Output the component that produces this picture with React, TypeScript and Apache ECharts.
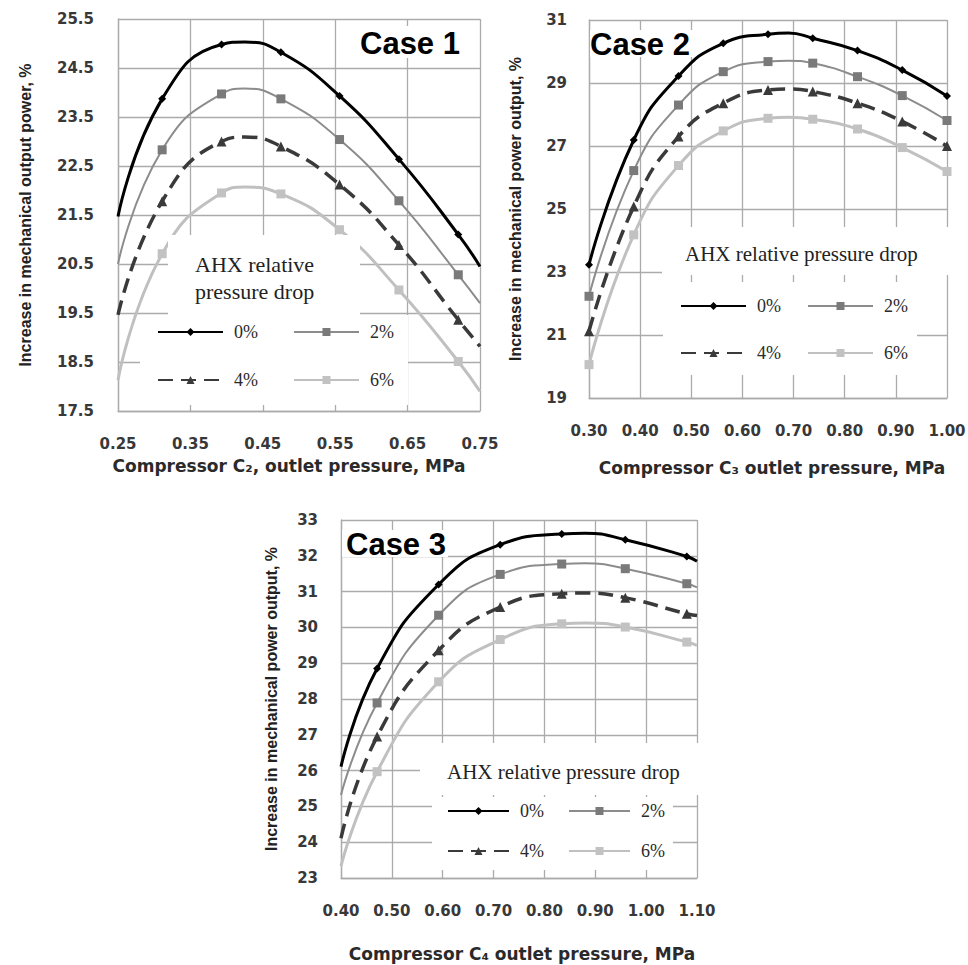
import React, { useEffect, useRef } from 'react';
import * as echarts from 'echarts';

// ---------- data ----------
const SERIES_NAMES = ['0%', '2%', '4%', '6%'];

// Case 1 (Compressor C2). Points flagged 0 in C1_MARK are curve points read off the plot without a marker.
const C1_X = [0.25, 0.311, 0.393, 0.425, 0.475, 0.556, 0.638, 0.72, 0.75];
const C1_MARK = [0, 1, 1, 0, 1, 1, 1, 1, 0];
const C1_P0 = [21.47, 23.87, 24.98, 25.03, 24.82, 23.93, 22.64, 21.1, 20.45];
const C1_P2 = [20.5, 22.83, 23.97, 24.08, 23.87, 23.04, 21.79, 20.28, 19.7];
const C1_P4 = [19.46, 21.78, 23.0, 23.09, 22.9, 22.12, 20.89, 19.36, 18.82];
const C1_P6 = [18.13, 20.71, 21.95, 22.07, 21.93, 21.2, 19.97, 18.51, 17.9];
const C1_X_TICKS = [0.25, 0.35, 0.45, 0.55, 0.65, 0.75];
const C1_Y_TICKS = [17.5, 18.5, 19.5, 20.5, 21.5, 22.5, 23.5, 24.5, 25.5];

// Case 2 (Compressor C3)
const C2_X = [0.3, 0.3875, 0.475, 0.5625, 0.65, 0.69, 0.7375, 0.825, 0.9125, 1.0];
const C2_MARK = [1, 1, 1, 1, 1, 0, 1, 1, 1, 1];
const C2_P0 = [23.23, 27.19, 29.22, 30.26, 30.55, 30.59, 30.42, 30.03, 29.41, 28.59];
const C2_P2 = [22.23, 26.22, 28.3, 29.36, 29.68, 29.71, 29.63, 29.2, 28.6, 27.81];
const C2_P4 = [21.12, 25.08, 27.3, 28.36, 28.78, 28.81, 28.73, 28.36, 27.78, 27.0];
const C2_P6 = [20.06, 24.18, 26.38, 27.48, 27.88, 27.91, 27.85, 27.54, 26.95, 26.19];
const C2_X_TICKS = [0.3, 0.4, 0.5, 0.6, 0.7, 0.8, 0.9, 1.0];
const C2_Y_TICKS = [19, 21, 23, 25, 27, 29, 31];

// Case 3 (Compressor C4)
const C3_X = [0.4, 0.471, 0.592, 0.713, 0.834, 0.88, 0.959, 1.08, 1.1];
const C3_MARK = [0, 1, 1, 1, 1, 0, 1, 1, 0];
const C3_P0 = [26.11, 28.85, 31.2, 32.31, 32.61, 32.63, 32.45, 31.98, 31.85];
const C3_P2 = [25.32, 27.89, 30.34, 31.48, 31.77, 31.79, 31.64, 31.22, 31.12];
const C3_P4 = [24.11, 26.95, 29.36, 30.57, 30.94, 30.96, 30.83, 30.38, 30.33];
const C3_P6 = [23.33, 25.97, 28.48, 29.66, 30.1, 30.12, 30.01, 29.59, 29.5];
const C3_X_TICKS = [0.4, 0.5, 0.6, 0.7, 0.8, 0.9, 1.0, 1.1];
const C3_Y_TICKS = [23, 24, 25, 26, 27, 28, 29, 30, 31, 32, 33];

const CASE_LABELS = ['Case 1', 'Case 2', 'Case 3'];
const X_NAMES = [
  'Compressor C\u2082, outlet pressure, MPa',
  'Compressor C\u2083 outlet pressure, MPa',
  'Compressor C\u2084 outlet pressure, MPa',
];
const Y_NAMES = [
  'Increase in mechanical output power, %',
  'Increase in mechanical power output, %',
  'Increase in mechanical power output, %',
];
const LEGEND_TITLE = 'AHX relative pressure drop';

// ---------- styles ----------
const GRID_COLOR = '#ababab';
const TICK_FONT = 'DejaVu Sans';
const SERIF = 'Liberation Serif';

const STYLES = [
  { symbol: 'diamond', symbolSize: 8, color: '#000000', lineColor: '#000000', width: 3, type: 'solid' as any },
  { symbol: 'rect', symbolSize: 9, color: '#7a7a7a', lineColor: '#8c8c8c', width: 2, type: 'solid' as any },
  { symbol: 'triangle', symbolSize: 10, color: '#3a3a3a', lineColor: '#3a3a3a', width: 3.5, type: [15, 8] as any },
  { symbol: 'rect', symbolSize: 9, color: '#c2c2c2', lineColor: '#c0c0c0', width: 3, type: 'solid' as any },
];

function makeData(xs: number[], ys: number[], mark: number[]) {
  return xs.map((x, i) => (mark[i] ? { value: [x, ys[i]] } : { value: [x, ys[i]], symbol: 'none' }));
}

function buildSeries(idx: number, xs: number[], mark: number[], sets: number[][]) {
  return sets.map((ys, k) => {
    const s = STYLES[k];
    return {
      type: 'line',
      name: SERIES_NAMES[k],
      xAxisIndex: idx,
      yAxisIndex: idx,
      smooth: true,
      symbol: s.symbol,
      symbolSize: s.symbolSize,
      showSymbol: true,
      itemStyle: { color: s.color },
      lineStyle: { color: s.lineColor, width: s.width, type: s.type },
      emphasis: { disabled: true },
      z: 2,
      data: makeData(xs, ys, mark),
    };
  });
}

function xAxisOf(idx: number, min: number, max: number, ticks: number[], nameGap: number, pad: number[]) {
  return {
    type: 'value',
    gridIndex: idx,
    min,
    max,
    name: X_NAMES[idx],
    nameLocation: 'middle',
    nameGap,
    nameTextStyle: { fontFamily: TICK_FONT, fontWeight: 'bold', fontSize: 17, color: '#2a2a2a', padding: pad },
    axisLine: { show: true, onZero: false, lineStyle: { color: GRID_COLOR, width: 1.3 } },
    axisTick: { show: false, customValues: ticks },
    axisLabel: {
      customValues: ticks,
      formatter: (v: number) => v.toFixed(2),
      margin: 25,
      fontFamily: TICK_FONT,
      fontWeight: 'bold',
      fontSize: 15,
      color: '#383838',
    },
    splitLine: { show: true, lineStyle: { color: GRID_COLOR, width: 1.3 } },
  };
}

function yAxisOf(idx: number, min: number, max: number, ticks: number[], digits: number, margin: number, nameGap: number) {
  return {
    type: 'value',
    gridIndex: idx,
    min,
    max,
    name: Y_NAMES[idx],
    nameLocation: 'middle',
    nameRotate: 90,
    nameGap,
    nameTextStyle: { fontFamily: 'Liberation Sans', fontWeight: 'bold', fontSize: 16, color: '#222' },
    axisLine: { show: true, onZero: false, lineStyle: { color: GRID_COLOR, width: 1.3 } },
    axisTick: { show: false, customValues: ticks },
    axisLabel: {
      customValues: ticks,
      formatter: (v: number) => v.toFixed(digits),
      margin,
      fontFamily: TICK_FONT,
      fontWeight: 'bold',
      fontSize: 15,
      color: '#383838',
    },
    splitLine: { show: true, lineStyle: { color: GRID_COLOR, width: 1.3 } },
  };
}

function legendOf(left: number, top: number, names: string[], itemWidth: number, itemGap: number) {
  return {
    left,
    top,
    orient: 'horizontal',
    padding: 0,
    itemWidth,
    itemHeight: 10,
    itemGap,
    selectedMode: false,
    data: names,
    textStyle: { fontFamily: SERIF, fontSize: 18, color: '#2a2a2a', padding: [0, 0, 0, 6] },
    z: 4,
  };
}

function whiteRect(x: number, y: number, w: number, h: number) {
  return { type: 'rect', z: 3, shape: { x, y, width: w, height: h }, style: { fill: '#ffffff' }, silent: true };
}

function label(text: string, x: number, y: number, size: number, family: string, weight: string, color: string, lineHeight?: number) {
  return {
    type: 'text',
    z: 5,
    x,
    y,
    silent: true,
    style: {
      text,
      fontFamily: family,
      fontSize: size,
      fontWeight: weight,
      fill: color,
      textAlign: 'left',
      textVerticalAlign: lineHeight ? 'top' : 'middle',
      verticalAlign: lineHeight ? 'top' : 'middle',
      lineHeight: lineHeight || size * 1.2,
    },
  };
}

export default function App() {
  const ref = useRef<HTMLDivElement>(null);

  useEffect(() => {
    document.body.style.margin = '0';
    if (!ref.current) return;
    const chart = echarts.init(ref.current, undefined, { renderer: 'svg' });

    const option: any = {
      animation: false,
      backgroundColor: '#ffffff',
      grid: [
        { left: 118, top: 19, width: 362, height: 392, outerBoundsMode: 'none' },
        { left: 589, top: 20, width: 358, height: 378, outerBoundsMode: 'none' },
        { left: 341, top: 520, width: 356, height: 358, outerBoundsMode: 'none' },
      ],
      xAxis: [
        xAxisOf(0, 0.25, 0.75, C1_X_TICKS, 46, [0, 20, 0, 0]),
        xAxisOf(1, 0.3, 1.0, C2_X_TICKS, 61, [0, 0, 0, 8]),
        xAxisOf(2, 0.4, 1.1, C3_X_TICKS, 67, [0, 0, 0, 6]),
      ],
      yAxis: [
        yAxisOf(0, 17.5, 25.5, C1_Y_TICKS, 1, 24, 85),
        yAxisOf(1, 19, 31, C2_Y_TICKS, 0, 22, 66),
        yAxisOf(2, 23, 33, C3_Y_TICKS, 0, 23, 62),
      ],
      legend: [
        legendOf(157, 323, ['0%', '2%'], 65, 35),
        legendOf(157, 371, ['4%', '6%'], 65, 35),
        legendOf(680, 297, ['0%', '2%'], 65, 26),
        legendOf(680, 344, ['4%', '6%'], 65, 26),
        legendOf(447, 802, ['0%', '2%'], 61, 24),
        legendOf(447, 842, ['4%', '6%'], 61, 24),
      ],
      series: [
        ...buildSeries(0, C1_X, C1_MARK, [C1_P0, C1_P2, C1_P4, C1_P6]),
        ...buildSeries(1, C2_X, C2_MARK, [C2_P0, C2_P2, C2_P4, C2_P6]),
        ...buildSeries(2, C3_X, C3_MARK, [C3_P0, C3_P2, C3_P4, C3_P6]),
      ],
      graphic: {
        elements: [
          // legend boxes
          whiteRect(168, 235, 192, 80),
          whiteRect(140, 315, 268, 90),
          whiteRect(662, 227, 290, 48),
          whiteRect(663, 282, 254, 93),
          whiteRect(420, 743, 280, 52),
          whiteRect(432, 797, 241, 73),
          // case label boxes
          whiteRect(356, 26, 108, 32),
          whiteRect(590, 30, 103, 27),
          whiteRect(342, 530, 106, 27),
          // legend titles
          label('AHX relative\npressure drop', 195, 251, 22, SERIF, 'normal', '#222', 27),
          label(LEGEND_TITLE, 685, 254, 21, SERIF, 'normal', '#222'),
          label(LEGEND_TITLE, 447, 772, 21, SERIF, 'normal', '#222'),
          // case labels
          label(CASE_LABELS[0], 360, 43, 31, 'Liberation Sans', 'bold', '#000'),
          label(CASE_LABELS[1], 590, 44, 31, 'Liberation Sans', 'bold', '#000'),
          label(CASE_LABELS[2], 346, 544, 31, 'Liberation Sans', 'bold', '#000'),
        ],
      },
    };

    chart.setOption(option);
    return () => {
      chart.dispose();
    };
  }, []);

  return <div ref={ref} style={{ width: 968, height: 965 }} />;
}
